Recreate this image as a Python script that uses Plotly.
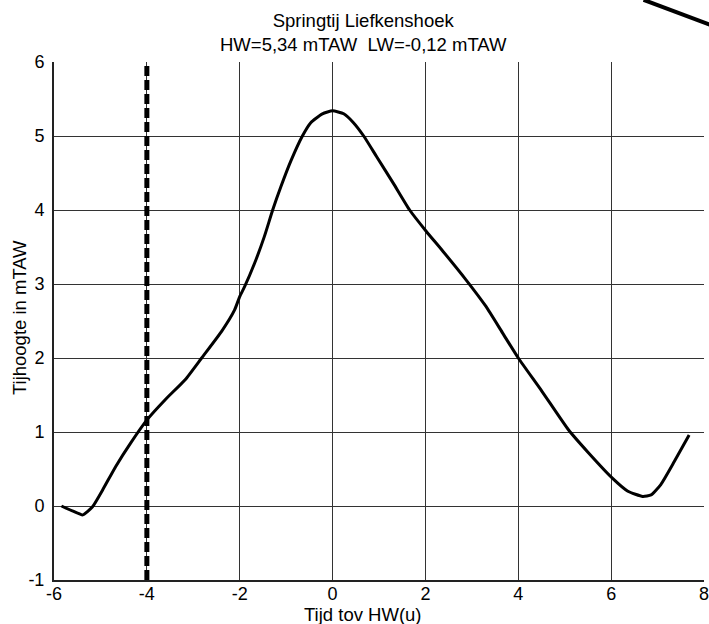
import plotly.graph_objects as go

# Tide curve: time relative to high water (hours) and water level (mTAW)
time_h = [-5.84, -5.59, -5.38, -5.17, -4.95, -4.67, -4.35, -3.99, -3.60, -3.17,
          -2.82, -2.39, -2.11, -2.00, -1.89, -1.68, -1.47, -1.29, -1.11, -0.90,
          -0.65, -0.47, -0.22, 0.00, 0.24, 0.45, 0.67, 0.95, 1.31, 1.66,
          2.02, 2.38, 2.87, 3.30, 3.66, 4.00, 4.51, 5.08, 5.51, 6.02,
          6.36, 6.68, 6.86, 7.07, 7.36, 7.68]
level_m = [0.00, -0.07, -0.12, -0.01, 0.22, 0.535, 0.85, 1.17, 1.44, 1.71,
           2.00, 2.36, 2.65, 2.83, 2.97, 3.28, 3.64, 4.00, 4.32, 4.66,
           5.00, 5.18, 5.30, 5.34, 5.30, 5.18, 5.00, 4.72, 4.36, 4.00,
           3.71, 3.44, 3.06, 2.70, 2.34, 2.00, 1.55, 1.03, 0.72, 0.38,
           0.20, 0.13, 0.15, 0.29, 0.60, 0.96]

marker_time = [-4.0, -4.0]
marker_level = [-1.0, 6.0]

x_ticks = [-6, -4, -2, 0, 2, 4, 6, 8]
y_ticks = [-1, 0, 1, 2, 3, 4, 5, 6]

title_text = "Springtij Liefkenshoek<br>HW=5,34 mTAW  LW=-0,12 mTAW"
x_title = "Tijd tov HW(u)"
y_title = "Tijhoogte in mTAW"

FONT = "Liberation Sans, Arial, sans-serif"
TXT = 18.5

fig = go.Figure()
fig.add_trace(go.Scatter(
    x=time_h, y=level_m, mode="lines",
    line=dict(color="black", width=3, shape="spline", smoothing=0.5),
    showlegend=False, hoverinfo="skip"))
fig.add_trace(go.Scatter(
    x=marker_time, y=marker_level, mode="lines",
    line=dict(color="black", width=5, dash="10px,4px"),
    showlegend=False, hoverinfo="skip"))

fig.update_layout(
    width=709, height=624,
    margin=dict(l=54, r=0, t=62, b=44),
    paper_bgcolor="white", plot_bgcolor="white",
    font=dict(family=FONT, size=18, color="black"),
    annotations=[
        dict(text=title_text, xref="paper", yref="paper", x=0.476, y=1.056,
             xanchor="center", yanchor="middle", showarrow=False,
             font=dict(family=FONT, size=TXT, color="black")),
        dict(text=x_title, xref="paper", yref="paper", x=0.476, y=-0.066,
             xanchor="center", yanchor="middle", showarrow=False,
             font=dict(family=FONT, size=TXT, color="black")),
        dict(text=y_title, xref="paper", yref="paper", x=-0.052, y=0.506,
             xanchor="center", yanchor="middle", showarrow=False, textangle=-90,
             font=dict(family=FONT, size=TXT, color="black")),
    ],
    shapes=[dict(type="line", xref="paper", yref="paper",
                 x0=0.907, y0=1.12, x1=1.02, y1=1.067,
                 line=dict(color="black", width=4))],
)
fig.update_xaxes(
    range=[-6, 8], tickvals=x_ticks, ticktext=[str(v) for v in x_ticks],
    showgrid=True, gridcolor="#333", gridwidth=1,
    showline=True, linecolor="#222", linewidth=2, mirror=False,
    zeroline=False, ticks="", ticklen=0, ticklabelstandoff=-4,
    ticklabeloverflow="allow",
    tickfont=dict(size=18))
fig.update_yaxes(
    range=[-1, 6], tickvals=y_ticks, ticktext=[str(v) for v in y_ticks],
    showgrid=True, gridcolor="#333", gridwidth=1,
    showline=True, linecolor="#222", linewidth=2,
    zeroline=False, ticks="", ticklen=0, ticklabelstandoff=4,
    tickfont=dict(size=18))

fig.write_html("out.html", config={"displayModeBar": False},
               post_script="document.body.style.margin='0';")
